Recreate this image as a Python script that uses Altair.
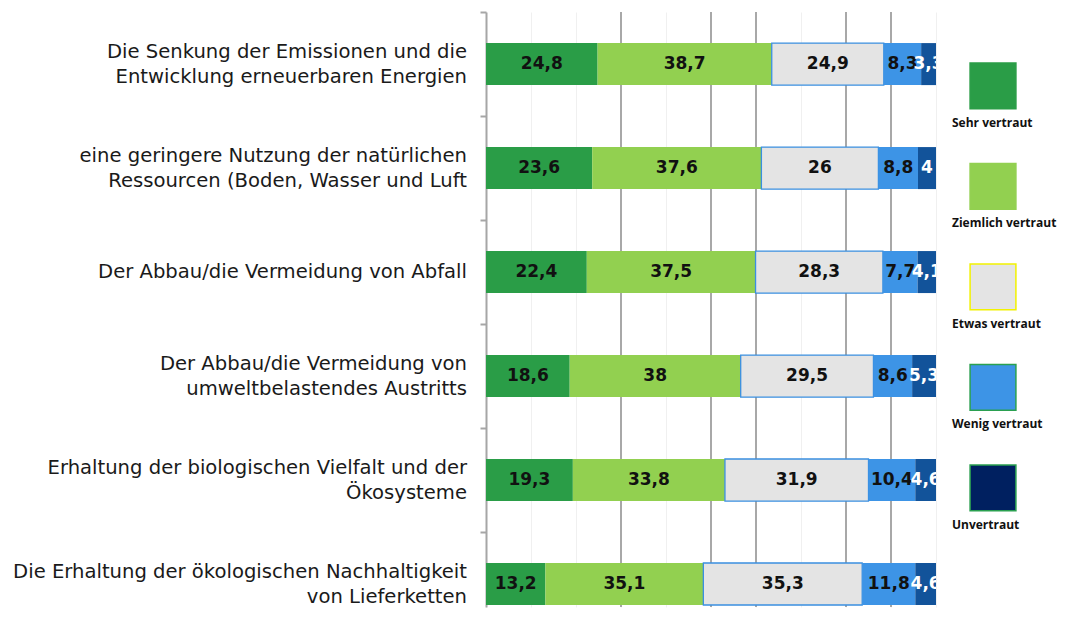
import altair as alt
import pandas as pd

items = [
    "Die Senkung der Emissionen und die|Entwicklung erneuerbaren Energien",
    "eine geringere Nutzung der natürlichen|Ressourcen (Boden, Wasser und Luft",
    "Der Abbau/die Vermeidung von Abfall",
    "Der Abbau/die Vermeidung von|umweltbelastendes Austritts",
    "Erhaltung der biologischen Vielfalt und der|Ökosysteme",
    "Die Erhaltung der ökologischen Nachhaltigkeit|von Lieferketten",
]
categories = ["Sehr vertraut", "Ziemlich vertraut", "Etwas vertraut", "Wenig vertraut", "Unvertraut"]

sehr = [24.8, 23.6, 22.4, 18.6, 19.3, 13.2]
ziemlich = [38.7, 37.6, 37.5, 38, 33.8, 35.1]
etwas = [24.9, 26, 28.3, 29.5, 31.9, 35.3]
wenig = [8.3, 8.8, 7.7, 8.6, 10.4, 11.8]
unvertraut = [3.3, 4, 4.1, 5.3, 4.6, 4.6]

bar_colors = ["#2a9d47", "#92d050", "#e4e4e4", "#3d94e6", "#12539a"]
legend_colors = ["#2a9d47", "#92d050", "#e4e4e4", "#3d94e6", "#002060"]
legend_edges = ["#2a9d47", "#92d050", "#f2f200", "#2aa050", "#2aa050"]

grid_all = list(range(0, 101, 10))
grid_dark = [30, 50, 60, 80, 90]

series = [sehr, ziemlich, etwas, wenig, unvertraut]
rows = []
for ci, (cat, vals) in enumerate(zip(categories, series)):
    for item, v in zip(items, vals):
        rows.append({"item": item, "cat": cat, "order": ci, "value": v})
df = pd.DataFrame(rows)

# category label lines (for centred multi-line labels)
lab_rows = []
for item in items:
    parts = item.split("|")
    if len(parts) == 1:
        lab_rows.append({"item": item, "line": parts[0], "pos": "single"})
    else:
        lab_rows.append({"item": item, "line": parts[0], "pos": "top"})
        lab_rows.append({"item": item, "line": parts[1], "pos": "bottom"})
lab_df = pd.DataFrame(lab_rows)

y_scale = alt.Scale(domain=items, paddingInner=0.596, paddingOuter=0.159, align=0.94)
y_axis = alt.Axis(
    title=None,
    labels=False,
    tickOffset=-52,
    tickSize=6,
    tickColor="#a6a6a6",
    tickWidth=2,
    domainColor="#a6a6a6",
    domainWidth=2,
    grid=False,
)
y_enc = alt.Y("item:N", sort=items, scale=y_scale, axis=y_axis)
x_scale = alt.Scale(domain=[0, 100], nice=False, zero=True)
x_axis = alt.Axis(
    values=grid_all,
    grid=True,
    gridColor="#f0f0f0",
    gridWidth=1,
    labels=False,
    ticks=False,
    domain=False,
    title=None,
)

base = alt.Chart(df).transform_stack(
    stack="value", groupby=["item"], sort=[alt.SortField("order")], as_=["x0", "x1"]
)

bars = base.mark_bar(strokeWidth=1.3).encode(
    y=y_enc,
    x=alt.X("x0:Q", scale=x_scale, axis=x_axis),
    x2="x1:Q",
    color=alt.Color("cat:N", scale=alt.Scale(domain=categories, range=bar_colors), legend=None),
    stroke=alt.condition(alt.datum.cat == "Etwas vertraut", alt.value("#3a8fe0"), alt.value("transparent")),
)

labels = base.transform_calculate(
    mid="(datum.x0 + datum.x1) / 2",
    lab="replace(toString(datum.value), '.', ',')",
).mark_text(font="DejaVu Sans", fontWeight="bold", fontSize=17, clip=True).encode(
    y=y_enc,
    x=alt.X("mid:Q", scale=x_scale, axis=x_axis),
    text="lab:N",
    color=alt.condition(alt.datum.cat == "Unvertraut", alt.value("white"), alt.value("#111111")),
)

rules = alt.Chart(pd.DataFrame({"g": grid_dark})).mark_rule(color="#a8a8a8", strokeWidth=2).encode(
    x=alt.X("g:Q", scale=x_scale, axis=x_axis)
)

cat_base = alt.Chart(lab_df)
cat_layers = []
for pos, dy in [("single", 0), ("top", -12.5), ("bottom", 12.5)]:
    cat_layers.append(
        cat_base.transform_filter(alt.datum.pos == pos)
        .mark_text(align="right", baseline="middle", dy=dy, font="DejaVu Sans", fontSize=19.6, color="#1a1a1a")
        .encode(y=y_enc, x=alt.value(-19), text="line:N")
    )

main = alt.layer(rules, bars, labels, *cat_layers).properties(width=450, height=595)

leg_df = pd.DataFrame({"name": categories, "fill": legend_colors, "edge": legend_edges})
leg_y = alt.Y("name:N", sort=categories, scale=alt.Scale(type="point", padding=0.96, align=0.383), axis=None)
squares = alt.Chart(leg_df).mark_square(size=2100, opacity=1, strokeWidth=1.5).encode(
    x=alt.value(41),
    y=leg_y,
    color=alt.Color("fill:N", scale=None),
    stroke=alt.Stroke("edge:N", scale=None),
)
leg_text = alt.Chart(leg_df).mark_text(
    align="left", baseline="middle", dy=37, font="Open Sans", fontWeight="bold", fontSize=12, color="#111111"
).encode(x=alt.value(0), y=leg_y, text="name:N")
legend = alt.layer(squares, leg_text).properties(width=118, height=595)

chart = (
    alt.hconcat(main, legend, spacing=15)
    .properties(padding={"left": 5, "top": 3, "right": 0, "bottom": 0})
    .configure_view(stroke=None)
)

chart.save("out.html", embed_options={"renderer": "svg", "actions": False})
